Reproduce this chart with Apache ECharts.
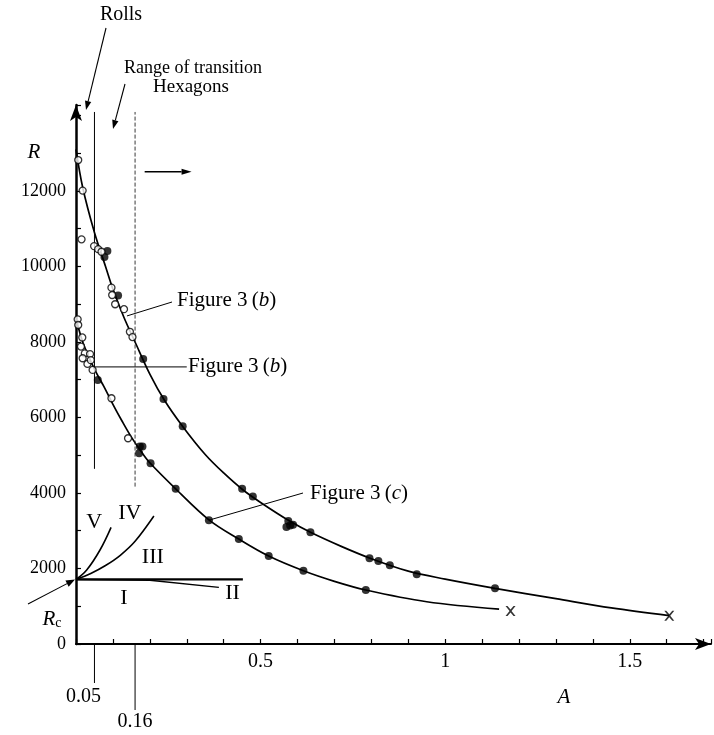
<!DOCTYPE html>
<html>
<head>
<meta charset="utf-8">
<script src="https://cdn.jsdelivr.net/npm/echarts@6/dist/echarts.min.js"></script>
<style>
html, body { margin: 0; padding: 0; background: #fff; }
#main { width: 714px; height: 735px; }
</style>
</head>
<body>
<div id="main"></div>
<script>
// values: [A, R]
var upperCurve = [[0, 13100], [0.018, 12100], [0.05, 10900], [0.08, 10000], [0.1, 9400], [0.13, 8650],
    [0.16, 8000], [0.2, 7150], [0.24, 6450], [0.29, 5750], [0.35, 5020], [0.4, 4530], [0.45, 4100], [0.5, 3750],
    [0.58, 3250], [0.635, 2960], [0.72, 2580], [0.8, 2260], [0.9, 1930], [1.0, 1720], [1.135, 1475],
    [1.3, 1200], [1.45, 955], [1.607, 750]];
var lowerCurve = [[0.002, 8550], [0.02, 7950], [0.05, 7280], [0.075, 6830], [0.1, 6350], [0.125, 5900],
    [0.15, 5480], [0.175, 5120], [0.2, 4800], [0.27, 4110], [0.36, 3290], [0.441, 2780], [0.522, 2330],
    [0.616, 1940], [0.7, 1660], [0.785, 1430], [0.95, 1120], [1.146, 925]];

var upperOpen = [[0.006, 12820], [0.018, 12010], [0.049, 10540], [0.06, 10460], [0.069, 10390],
    [0.096, 9440], [0.098, 9245], [0.106, 9000], [0.13, 8870], [0.146, 8270], [0.153, 8130]];
var upperFilled = [[0.077, 10250], [0.085, 10410], [0.114, 9230], [0.182, 7550], [0.237, 6490],
    [0.289, 5770], [0.45, 4110], [0.479, 3910], [0.57, 3100], [0.575, 3260], [0.58, 3140], [0.588, 3160],
    [0.635, 2960], [0.795, 2270], [0.819, 2200], [0.85, 2085], [0.923, 1850], [1.135, 1475]];
var upperEnd = [[1.607, 750]];

var lowerOpen = [[0.0045, 8600], [0.006, 8450], [0.015, 10720], [0.017, 8120], [0.0135, 7880],
    [0.024, 7700], [0.018, 7570], [0.038, 7680], [0.031, 7420], [0.04, 7520], [0.045, 7260],
    [0.096, 6510], [0.141, 5450]];
var lowerFilled = [[0.059, 6990], [0.173, 5230], [0.18, 5230], [0.171, 5050], [0.202, 4790],
    [0.27, 4110], [0.36, 3280], [0.441, 2780], [0.522, 2330], [0.616, 1940], [0.785, 1430]];
var lowerEnd = [[1.177, 875]];

// stability regions near R_c
var lineI = [[0, 1710], [0.452, 1710]];
var lineII = [[0, 1710], [0.2, 1690], [0.387, 1500]];
var lineIV = [[0, 1710], [0.04, 1870], [0.08, 2080], [0.12, 2350], [0.16, 2720], [0.211, 3390]];
var lineV = [[0, 1710], [0.029, 1960], [0.065, 2490], [0.095, 3090]];
var regionLabels = [['V', 0.049, 3230], ['IV', 0.146, 3470], ['III', 0.208, 2305], ['I', 0.13, 1220], ['II', 0.424, 1350]];

var markedA = [0.05, 0.16];
var xTickLabels = [0.5, 1, 1.5];
var yTickLabels = [0, 2000, 4000, 6000, 8000, 10000, 12000];

var FONT = '"Liberation Serif", "DejaVu Serif", serif';

function lineSeries(d, w, extra) {
    var s = {
        type: 'line', data: d, showSymbol: false, silent: true,
        lineStyle: { color: '#000', width: w || 1.6 }, z: 3
    };
    for (var k in extra) s[k] = extra[k];
    return s;
}
function pointSeries(d, open, size) {
    return {
        type: 'scatter', data: d, symbol: 'circle', symbolSize: size || 8, z: 5,
        itemStyle: open ? { color: '#fff', borderColor: '#000', borderWidth: 1.3 } : { color: '#000' }
    };
}
var crossPath = 'path://M0,0L2,0L5,3.5L8,0L10,0L6,5L10,10L8,10L5,6.5L2,10L0,10L4,5Z';

var option = {
    backgroundColor: '#fff',
    animation: false,
    grid: { left: 76, right: 2, top: 105, bottom: 91 },
    xAxis: {
        type: 'value', min: 0, max: 1.72, interval: 0.1,
        axisLine: { lineStyle: { color: '#000', width: 2 }, symbol: ['none', 'arrow'], symbolSize: [9, 16] },
        axisTick: { inside: true, length: 5, lineStyle: { color: '#000', width: 1.2 } },
        splitLine: { show: false },
        axisLabel: {
            color: '#000', fontFamily: FONT, fontSize: 20, margin: 8, interval: 0,
            formatter: function (v) {
                for (var i = 0; i < xTickLabels.length; i++) {
                    if (Math.abs(v - xTickLabels[i]) < 1e-6) return String(xTickLabels[i]);
                }
                return '';
            }
        }
    },
    yAxis: {
        type: 'value', min: 0, max: 14278, interval: 1000,
        axisLine: { lineStyle: { color: '#000', width: 2.5 }, symbol: ['none', 'arrow'], symbolSize: [9, 16] },
        axisTick: { inside: true, length: 5, lineStyle: { color: '#000', width: 1.2 } },
        splitLine: { show: false },
        axisLabel: {
            color: '#000', fontFamily: FONT, fontSize: 18, margin: 10, interval: 0,
            formatter: function (v) {
                return yTickLabels.indexOf(Math.round(v)) >= 0 ? String(Math.round(v)) : '';
            }
        }
    },
    series: [
        lineSeries(upperCurve, 1.7, { smooth: 0.35 }),
        lineSeries(lowerCurve, 1.7, { smooth: 0.35 }),
        lineSeries(lineI, 2.2),
        lineSeries(lineII, 1.5),
        lineSeries(lineIV, 1.6, { smooth: 0.35 }),
        lineSeries(lineV, 1.6, { smooth: 0.4 }),
        lineSeries([[markedA[0], 4640], [markedA[0], 14093]], 1),
        lineSeries([[markedA[1], 4170], [markedA[1], 14093]], 0.9, { lineStyle: { color: '#222', width: 0.9, type: [4, 2] } }),
        lineSeries([[markedA[0], 7340], [0.3, 7340]], 1),
        pointSeries(upperFilled, false, 8),
        pointSeries(lowerFilled, false, 8),
        pointSeries(upperOpen, true, 7),
        pointSeries(lowerOpen, true, 7),
        { type: 'scatter', data: upperEnd.concat(lowerEnd), symbol: crossPath, symbolSize: 10, itemStyle: { color: '#000' }, z: 5 }
    ]
};

var chart = echarts.init(document.getElementById('main'));
chart.setOption(option);

function px(a, r) { return chart.convertToPixel({ gridIndex: 0 }, [a, r]); }
function arrow(p1, p2, w, L, W) {
    var ang = Math.atan2(p2[1] - p1[1], p2[0] - p1[0]);
    L = L || 9; W = W || 3.2;
    var bx = p2[0] - L * Math.cos(ang), by = p2[1] - L * Math.sin(ang);
    var nx = -Math.sin(ang) * W, ny = Math.cos(ang) * W;
    return [
        { type: 'line', shape: { x1: p1[0], y1: p1[1], x2: bx, y2: by }, style: { stroke: '#000', lineWidth: w || 1.1 } },
        { type: 'polygon', shape: { points: [[p2[0], p2[1]], [bx + nx, by + ny], [bx - nx, by - ny]] }, style: { fill: '#000' } }
    ];
}
function seg(p1, p2, w) {
    return { type: 'line', shape: { x1: p1[0], y1: p1[1], x2: p2[0], y2: p2[1] }, style: { stroke: '#000', lineWidth: w || 1 } };
}
function rich(size) {
    return {
        n: { fontFamily: FONT, fontSize: size, fill: '#000' },
        i: { fontFamily: FONT, fontSize: size, fontStyle: 'italic', fill: '#000' },
        s: { fontFamily: FONT, fontSize: 14, fill: '#000', padding: [9, 0, 0, 0] }
    };
}
function txt(s, x, y, align, size) {
    size = size || 18;
    return {
        type: 'text', x: x, y: y, z: 10,
        style: { text: s, rich: rich(size), font: size + 'px ' + FONT, fill: '#000', align: align || 'left', verticalAlign: 'middle' }
    };
}

var g = [];
// axis names
g.push(txt('{i|R}', 34, 152, 'center', 21));
g.push(txt('{i|A}', 564, 697, 'center', 21));
// top annotations
g.push(txt('{n|Rolls}', 121, 15, 'center', 20));
g = g.concat(arrow([106, 28], [86, 110]));
g.push(txt('{n|Range of transition}', 193, 68, 'center', 18));
g.push(txt('{n|Hexagons}', 191, 87, 'center', 19));
g = g.concat(arrow([125, 84], [113, 129]));
g = g.concat(arrow(px(0.186, 12510), px(0.313, 12510), 1.3, 10, 3));
// labels below the axis for the marked A values
var p05 = px(markedA[0], 0), p16 = px(markedA[1], 0);
g.push(seg([p05[0], p05[1]], [p05[0], 683], 1));
g.push(seg([p16[0], p16[1]], [p16[0], 710], 1));
g.push(txt('{n|0.05}', p05[0] - 11, 697, 'center', 20));
g.push(txt('{n|0.16}', p16[0], 722, 'center', 20));
// figure leaders
g.push(seg(px(0.138, 8690), [172, 302], 1));
g.push(txt('{n|Figure 3\u2009(}{i|b}{n|)}', 177, 300, 'left', 21));
g.push(txt('{n|Figure 3\u2009(}{i|b}{n|)}', 188, 366, 'left', 21));
g.push(seg(px(0.36, 3280), [303, 493], 1));
g.push(txt('{n|Figure 3\u2009(}{i|c}{n|)}', 310, 493, 'left', 21));
// R_c
var rc = px(0, 1710);
g = g.concat(arrow([28, 604], [rc[0] - 1, rc[1]], 1.1, 9, 3.5));
g.push(txt('{i|R}{s|c}', 52, 619, 'center', 21));
// region numerals
regionLabels.forEach(function (r) {
    var p = px(r[1], r[2]);
    g.push(txt('{n|' + r[0] + '}', p[0], p[1], 'center', 22));
});
chart.setOption({ graphic: g });
</script>
</body>
</html>
